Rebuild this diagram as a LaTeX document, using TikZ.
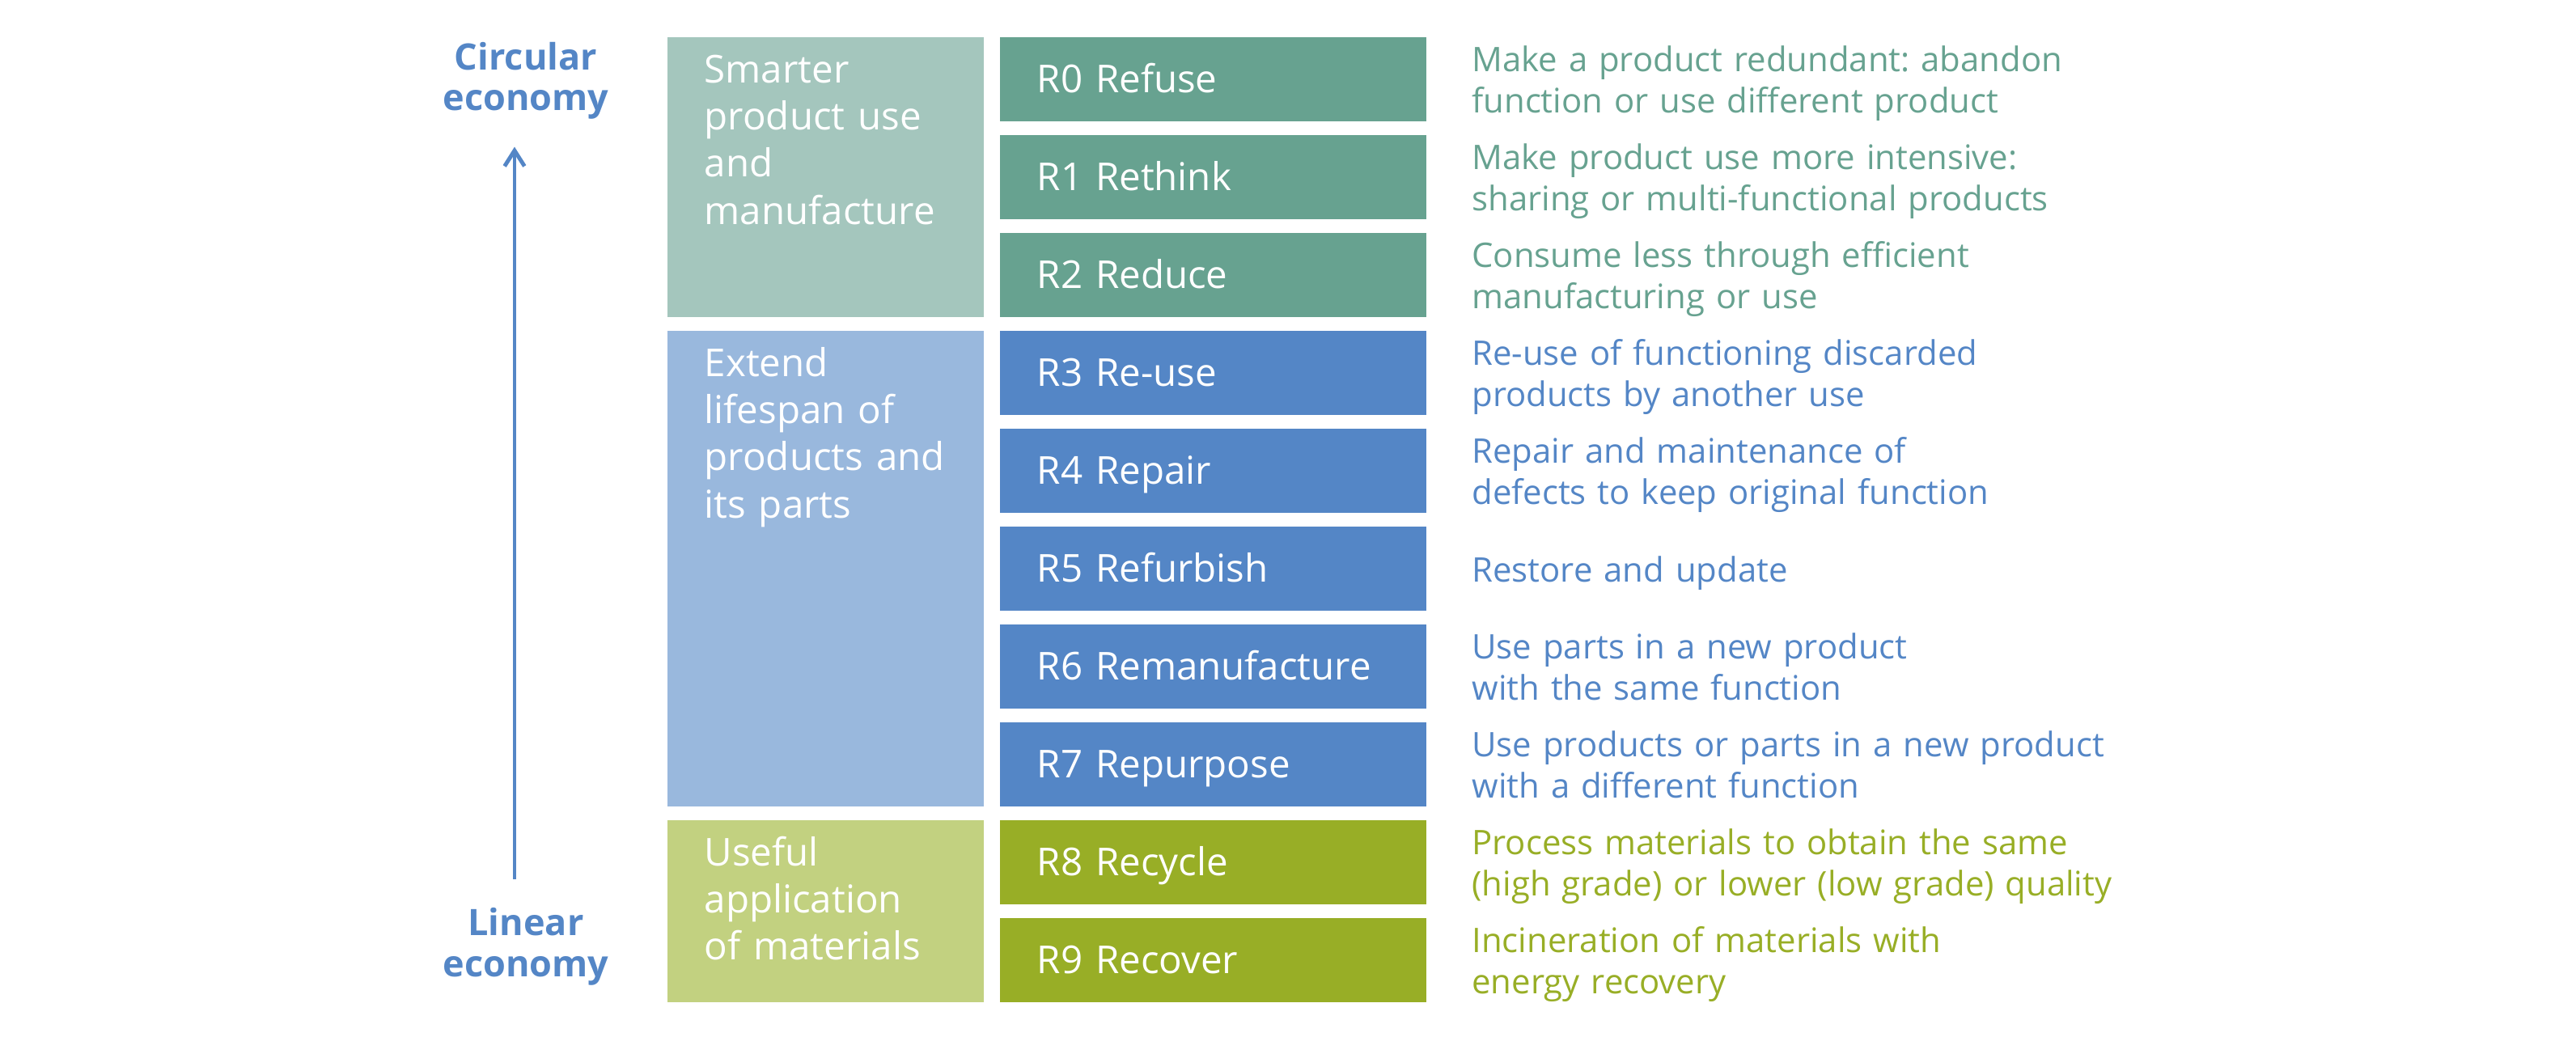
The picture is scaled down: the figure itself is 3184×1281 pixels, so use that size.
\documentclass[tikz,border=0pt]{standalone}
\usepackage{fontspec}
\setmainfont{Open Sans}
\frenchspacing
\usetikzlibrary{arrows.meta}
\definecolor{rgreen}{HTML}{67A290}
\definecolor{lgreen}{HTML}{A4C6BD}
\definecolor{rblue}{HTML}{5486C6}
\definecolor{lblue}{HTML}{99B8DD}
\definecolor{rolive}{HTML}{98AE26}
\definecolor{lolive}{HTML}{C2D180}
\begin{document}
\begin{tikzpicture}[x=0.01cm,y=-0.01cm,
rstyle/.style={rectangle,fill=#1,text=white,anchor=north west,minimum width=5.27cm,minimum height=1.04cm,inner xsep=0.46cm,inner ysep=0pt,text width=4.35cm,align=left,text height=0.34cm,text depth=0pt,font=\fontsize{13.5}{16.6}\selectfont},
gstyle/.style={rectangle,fill=#1,anchor=north west,minimum width=3.91cm,inner sep=0pt},
gtext/.style={anchor=base west,text=white,inner sep=0pt,text width=3.3cm,align=left,font=\fontsize{13.5}{16.6}\selectfont},
dstyle/.style={anchor=base west,text=#1,inner sep=0pt,text width=9cm,align=left,font=\fontsize{11.9}{14.5}\selectfont},
ecostyle/.style={anchor=base,text=rblue,inner sep=0pt,text width=3cm,align=center,font=\fontsize{12.8}{14.5}\selectfont\bfseries}]
\useasboundingbox (0,0) rectangle (3184,1281);
\node[gstyle=lgreen,minimum height=3.46cm](g1) at (824,45){};
\node[gstyle=lblue,minimum height=5.88cm](g2) at (824,408){};
\node[gstyle=lolive,minimum height=2.25cm](g3) at (824,1013){};
\node[gtext](t1) at ([xshift=0.46cm,yshift=-0.57cm]g1.north west){Smarter\\product use\\and\\manufacture};
\node[gtext](t2) at ([xshift=0.46cm,yshift=-0.57cm]g2.north west){Extend\\lifespan of\\products and\\its parts};
\node[gtext](t3) at ([xshift=0.46cm,yshift=-0.57cm]g3.north west){Useful\\application\\of materials};
\foreach \i/\rname/\rcol/\dy/\rdesc in {
 0/Refuse/rgreen/0.09cm/{Make a product redundant: abandon\\function or use different product},
 1/Rethink/rgreen/0.09cm/{Make product use more intensive:\\sharing or multi-functional products},
 2/Reduce/rgreen/0.09cm/{Consume less through efficient\\manufacturing or use},
 3/Re-use/rblue/0.09cm/{Re-use of functioning discarded\\products by another use},
 4/Repair/rblue/0.09cm/{Repair and maintenance of\\defects to keep original function},
 5/Refurbish/rblue/-0.17cm/{Restore and update},
 6/Remanufacture/rblue/0.09cm/{Use parts in a new product\\with the same function},
 7/Repurpose/rblue/0.09cm/{Use products or parts in a new product\\with a different function},
 8/Recycle/rolive/0.09cm/{Process materials to obtain the same\\(high grade) or lower (low grade) quality},
 9/Recover/rolive/0.09cm/{Incineration of materials with\\energy recovery}}
{\pgfmathtruncatemacro{\rowtop}{45+121*\i}
\node[rstyle=\rcol](r\i) at (1235,\rowtop){R\i\ \rname};
\node[dstyle=\rcol](d\i) at ([xshift=0.55cm,yshift=\dy]r\i.east){\rdesc};
}
\node[ecostyle](circ) at (650,86){Circular\\economy};
\node[ecostyle](lin) at (650,1156){Linear\\economy};
\draw[-{Straight Barb[length=5.5pt,width=7pt]},rblue,line width=1.4pt,shorten <=0.34cm,shorten >=0.33cm]
([xshift=-0.14cm]lin.north) -- ([xshift=-0.14cm]circ.south);
\end{tikzpicture}
\end{document}
